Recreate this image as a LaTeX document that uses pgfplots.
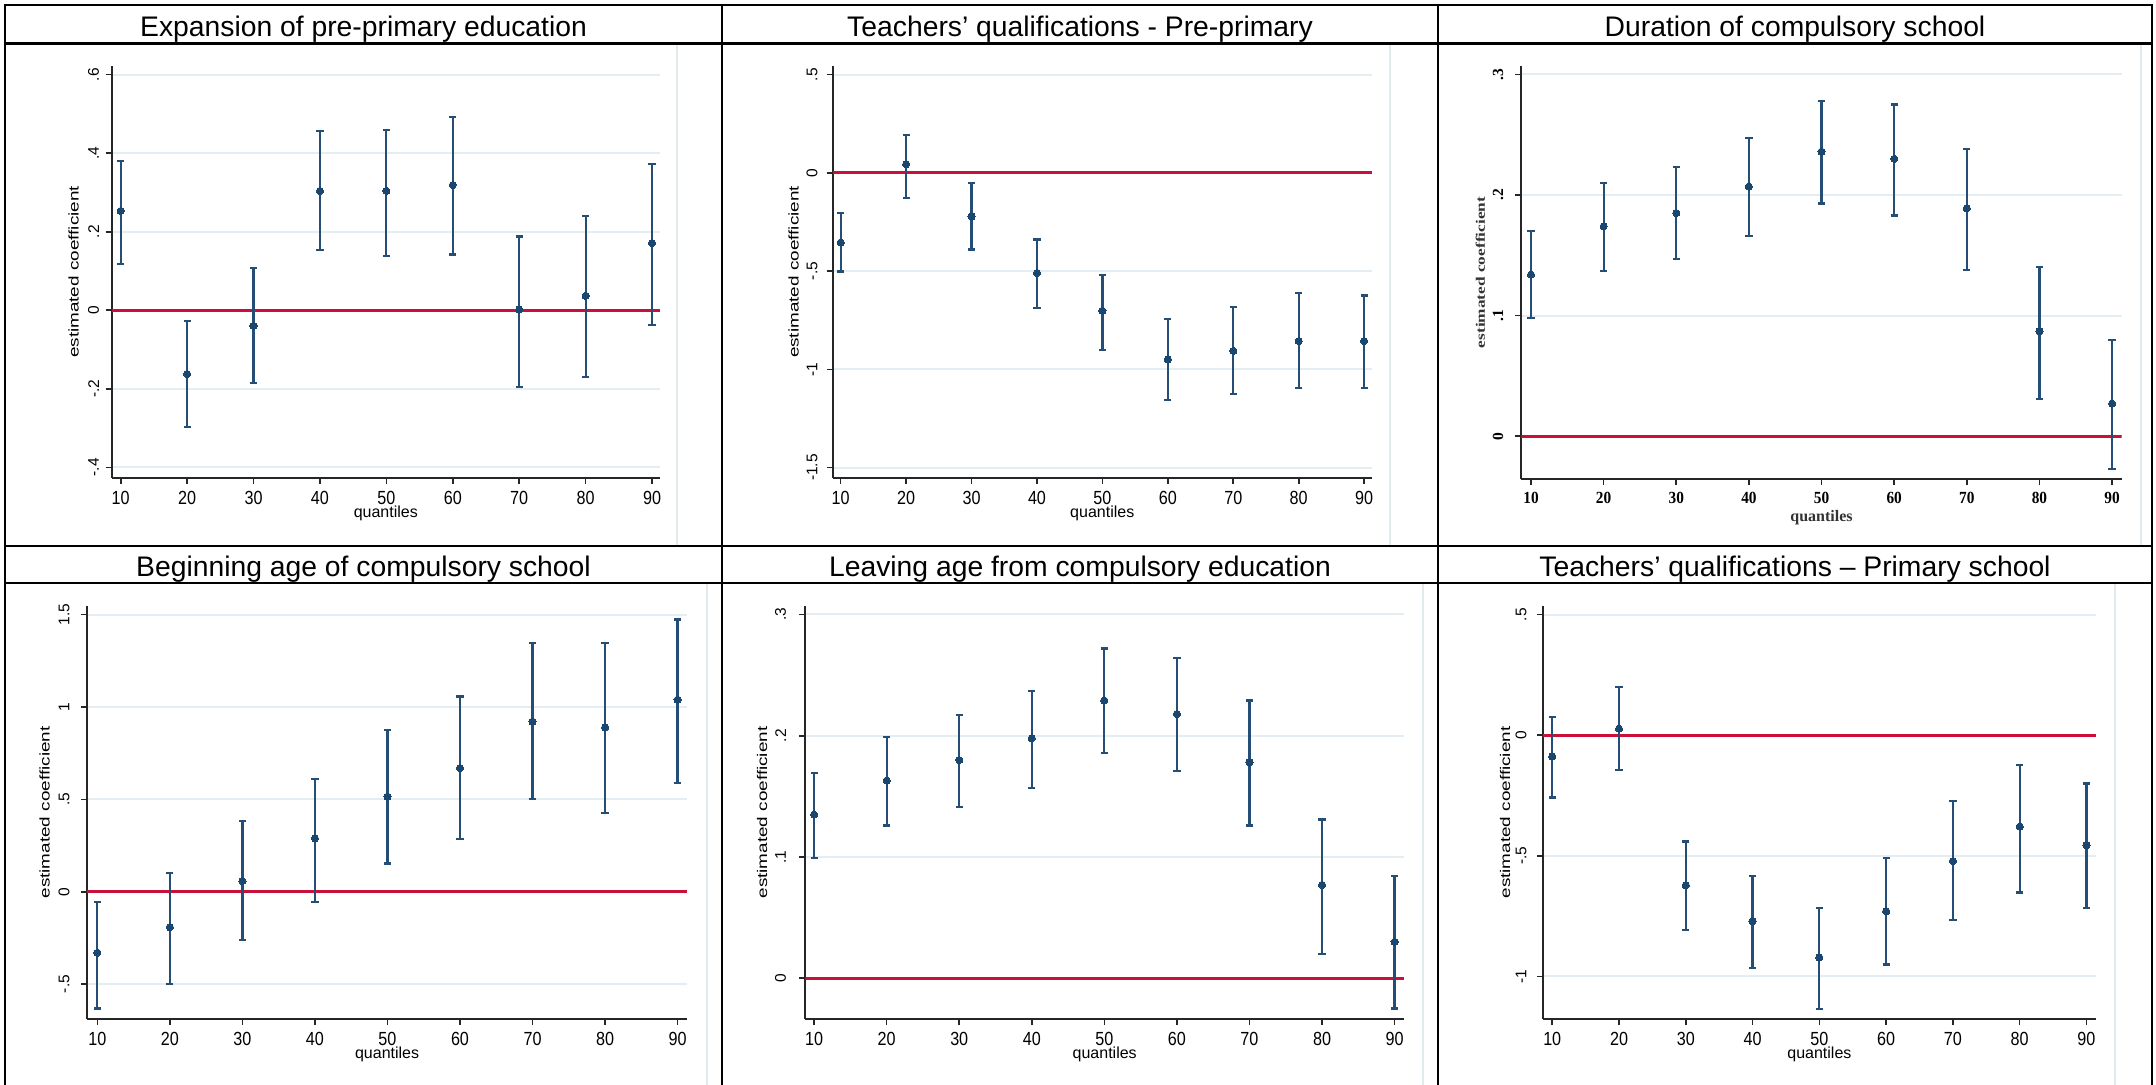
\documentclass[border=0pt]{standalone}
\usepackage{fontspec}
\setmainfont{Liberation Sans}
\newfontfamily\xtfont[FakeStretch=0.85]{Liberation Sans}
\newfontfamily\ylfont[FakeStretch=1.35]{Liberation Sans}
\newfontfamily\sxtfont[FakeStretch=0.9]{Liberation Serif}
\newfontfamily\sylfont[FakeStretch=1.33]{Liberation Serif}
\newfontfamily\sfont{Liberation Serif}
\usepackage{pgfplots}
\pgfplotsset{compat=1.18}
\usepackage{pgfplotstable}

\definecolor{navy}{RGB}{26,71,111}
\definecolor{barc}{RGB}{36,78,118}
\definecolor{redc}{RGB}{200,16,56}
\definecolor{gridc}{RGB}{228,237,241}
\definecolor{framec}{RGB}{226,234,238}

\pgfplotstableread{
q b lo hi
10 0.253 0.117 0.380
20 -0.162 -0.298 -0.027
30 -0.040 -0.186 0.107
40 0.304 0.154 0.456
50 0.304 0.138 0.460
60 0.319 0.142 0.492
70 0.002 -0.196 0.188
80 0.037 -0.170 0.241
90 0.171 -0.037 0.373
}\tA
\pgfplotstableread{
q b lo hi
10 -0.355 -0.502 -0.206
20 0.044 -0.126 0.193
30 -0.222 -0.390 -0.051
40 -0.509 -0.686 -0.339
50 -0.702 -0.901 -0.521
60 -0.949 -1.156 -0.745
70 -0.906 -1.126 -0.684
80 -0.856 -1.096 -0.613
90 -0.856 -1.094 -0.624
}\tB
\pgfplotstableread{
q b lo hi
10 0.134 0.098 0.170
20 0.174 0.137 0.210
30 0.185 0.147 0.223
40 0.207 0.166 0.247
50 0.236 0.193 0.278
60 0.230 0.183 0.275
70 0.189 0.138 0.238
80 0.087 0.031 0.140
90 0.027 -0.027 0.080
}\tC
\pgfplotstableread{
q b lo hi
10 -0.330 -0.632 -0.055
20 -0.192 -0.500 0.100
30 0.058 -0.262 0.383
40 0.289 -0.055 0.611
50 0.515 0.153 0.874
60 0.670 0.287 1.057
70 0.921 0.502 1.345
80 0.889 0.425 1.345
90 1.040 0.589 1.474
}\tD
\pgfplotstableread{
q b lo hi
10 0.135 0.0995 0.169
20 0.163 0.126 0.199
30 0.180 0.141 0.217
40 0.198 0.157 0.237
50 0.229 0.186 0.272
60 0.218 0.171 0.264
70 0.178 0.126 0.229
80 0.077 0.020 0.131
90 0.030 -0.025 0.084
}\tE
\pgfplotstableread{
q b lo hi
10 -0.088 -0.258 0.075
20 0.027 -0.143 0.199
30 -0.622 -0.809 -0.441
40 -0.772 -0.966 -0.584
50 -0.922 -1.134 -0.715
60 -0.730 -0.951 -0.508
70 -0.522 -0.766 -0.274
80 -0.379 -0.652 -0.125
90 -0.456 -0.717 -0.200
}\tF

\pgfplotsset{
  stata/.style={
    scale only axis, anchor=south west,
    axis x line*=bottom, axis y line*=left,
    axis line style={-, line width=1pt, black!85},
    tick align=outside, major tick length=3pt,
    tick style={black!85, line width=0.8pt},
    xtick={10,20,...,90},
    xticklabels={10,20,30,40,50,60,70,80,90},
    xticklabel style={font=\xtfont\fontsize{9.5}{10}\selectfont, anchor=center, yshift=-7.2pt},
    yticklabel style={font=\fontsize{7.75}{8}\selectfont},
    ymajorgrids, grid style={line width=1pt, gridc},
    xlabel={quantiles}, ylabel={estimated coefficient},
    every axis x label/.style={at={(axis description cs:0.5,0)}, anchor=center, yshift=-17.8pt, font=\fontsize{8}{9}\selectfont},
  },
  ylab/.style={every axis y label/.style={at={(axis description cs:0,0.5)}, xshift=#1, rotate=90, anchor=center, font=\ylfont\fontsize{7}{8}\selectfont}},
  ytl/.style={yticklabel style={xshift=#1, rotate=90, anchor=center}},
  cis/.style={only marks, mark=*, mark size=1.8pt, navy,
    mark options={fill=navy, draw=navy, line width=0pt},
    error bars/.cd, y dir=both, y explicit,
    error bar style={line width=1.1pt, barc},
    error mark options={rotate=90, mark size=1.8pt, line width=1.1pt, barc}},
  zl/.style={redc, line width=1.4pt, forget plot, mark=none},
}

\newcommand{\ci}[1]{\addplot[cis] table[x=q, y=b, y error plus expr=\thisrow{hi}-\thisrow{b}, y error minus expr=\thisrow{b}-\thisrow{lo}] {#1};}

\begin{document}
\begin{tikzpicture}
\useasboundingbox (0pt,0pt) rectangle (1078pt,542.5pt);

% faint graph-image edges
\draw[framec, line width=1pt] (338.5pt,520.75pt) -- (338.5pt,269.5pt);
\draw[framec, line width=1pt] (695pt,520.75pt) -- (695pt,269.5pt);
\draw[framec, line width=1pt] (1070.5pt,520.75pt) -- (1070.5pt,269.5pt);
\draw[framec, line width=1pt] (353.5pt,251pt) -- (353.5pt,0pt);
\draw[framec, line width=1pt] (711.5pt,251pt) -- (711.5pt,0pt);
\draw[framec, line width=1pt] (1057.3pt,251pt) -- (1057.3pt,0pt);

% Panel 1
\begin{axis}[stata, at={(55.8pt,303.5pt)}, width=274.2pt, height=206pt,
  xmin=8.63, xmax=91.2, ymin=-0.427, ymax=0.622,
  ytick={-0.4,-0.2,0,0.2,0.4,0.6}, yticklabels={-.4,-.2,0,.2,.4,.6},
  ytl=-6pt, ylab=-19pt]
\addplot[zl] coordinates {(8.63,0) (91.2,0)};
\ci{\tA}
\end{axis}

% Panel 2
\begin{axis}[stata, at={(416.25pt,303.5pt)}, width=269.75pt, height=206pt,
  xmin=8.75, xmax=91.2, ymin=-1.553, ymax=0.544,
  ytick={-1.5,-1,-0.5,0,0.5}, yticklabels={-1.5,-1,-.5,0,.5},
  ytl=-7.25pt, ylab=-19.5pt]
\addplot[zl] coordinates {(8.75,0) (91.2,0)};
\ci{\tB}
\end{axis}

% Panel 3 (serif)
\begin{axis}[stata, at={(760.7pt,303pt)}, width=300.05pt, height=206.5pt,
  xmin=8.68, xmax=91.3, ymin=-0.0355, ymax=0.307,
  ytick={0,0.1,0.2,0.3}, yticklabels={0,.1,.2,.3},
  xticklabel style={font=\sxtfont\bfseries\fontsize{8.5}{9}\selectfont, yshift=0.5pt},
  yticklabel style={font=\sfont\bfseries\fontsize{7.75}{8}\selectfont},
  ytl=-8.7pt,
  every axis y label/.style={at={(axis description cs:0,0.5)}, xshift=-20.5pt, rotate=90, anchor=center, font=\sylfont\bfseries\fontsize{6.5}{8}\selectfont, black!80},
  every axis x label/.style={at={(axis description cs:0.5,0)}, anchor=center, yshift=-19.5pt, font=\sfont\bfseries\fontsize{8}{9}\selectfont, black!80}]
\addplot[zl] coordinates {(8.68,0) (91.3,0)};
\ci{\tC}
\end{axis}

% Panel 4
\begin{axis}[stata, at={(43.6pt,33pt)}, width=299.9pt, height=206.5pt,
  xmin=8.6, xmax=91.3, ymin=-0.689, ymax=1.547,
  ytick={-0.5,0,0.5,1,1.5}, yticklabels={-.5,0,.5,1,1.5},
  ytl=-8.6pt, ylab=-21.3pt]
\addplot[zl] coordinates {(8.6,0) (91.3,0)};
\ci{\tD}
\end{axis}

% Panel 5
\begin{axis}[stata, at={(402.7pt,33pt)}, width=299.3pt, height=206.5pt,
  xmin=8.8, xmax=91.3, ymin=-0.0336, ymax=0.307,
  ytick={0,0.1,0.2,0.3}, yticklabels={0,.1,.2,.3},
  ytl=-9.4pt, ylab=-21.7pt]
\addplot[zl] coordinates {(8.8,0) (91.3,0)};
\ci{\tE}
\end{axis}

% Panel 6
\begin{axis}[stata, at={(771.5pt,33pt)}, width=276.4pt, height=206.5pt,
  xmin=8.62, xmax=91.4, ymin=-1.177, ymax=0.536,
  ytick={-1,-0.5,0,0.5}, yticklabels={-1,-.5,0,.5},
  ytl=-8pt, ylab=-19pt]
\addplot[zl] coordinates {(8.62,0) (91.4,0)};
\ci{\tF}
\end{axis}

% table frame
\begin{scope}[line width=1.25pt, black]
\draw (2.5pt,540pt) -- (1076pt,540pt);
\draw (2.5pt,520.75pt) -- (1076pt,520.75pt);
\draw (2.5pt,269.5pt) -- (1076pt,269.5pt);
\draw (2.5pt,251pt) -- (1076pt,251pt);
\draw (2.5pt,540.6pt) -- (2.5pt,0pt);
\draw (361pt,540.6pt) -- (361pt,0pt);
\draw (719pt,540.6pt) -- (719pt,0pt);
\draw (1076pt,540.6pt) -- (1076pt,0pt);
\end{scope}

% titles
\begin{scope}[every node/.style={anchor=base, font=\fontsize{14.15}{16}\selectfont, inner sep=0pt}]
\node at (181.75pt,524.25pt) {Expansion of pre-primary education};
\node at (540pt,524.25pt) {Teachers’ qualifications - Pre-primary};
\node at (897.5pt,524.25pt) {Duration of compulsory school};
\node at (181.75pt,254.25pt) {Beginning age of compulsory school};
\node at (540pt,254.25pt) {Leaving age from compulsory education};
\node at (897.5pt,254.25pt) {Teachers’ qualifications – Primary school};
\end{scope}
\end{tikzpicture}
\end{document}
